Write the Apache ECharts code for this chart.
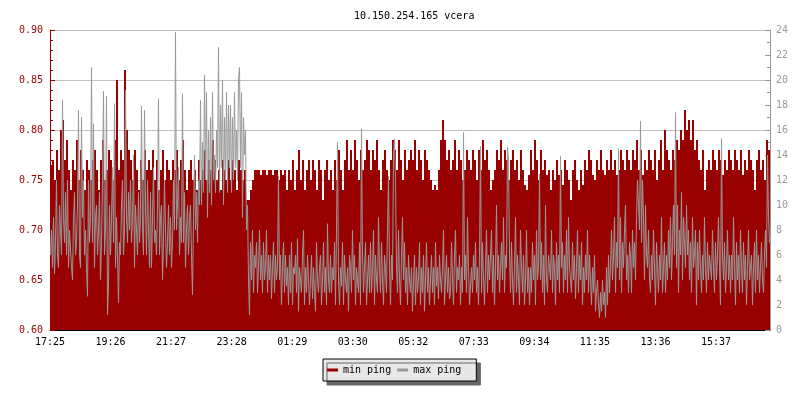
<!DOCTYPE html>
<html>
<head>
<meta charset="utf-8">
<script src="https://cdn.jsdelivr.net/npm/echarts@6/dist/echarts.min.js"></script>
<style>html,body{margin:0;padding:0;background:#fff}#c{width:800px;height:400px}</style>
</head>
<body>
<div id="c"></div>
<script>
const titleText = '10.150.254.165 vcera';
const tickLabels = ['17:25','19:26','21:27','23:28','01:29','03:30','05:32','07:33','09:34','11:35','13:36','15:37'];
const minStep = 4;   // minutes per min-ping sample
const maxStep = 2;   // minutes per max-ping sample
const tickInterval = 121.09;
const seriesNames = ['min ping', 'max ping'];

// min ping (left axis), one value per 4 minutes starting 17:25
const minPing = [
0.765,0.77,0.75,0.78,0.76,0.80,0.81,0.77,0.79,0.76,
0.74,0.77,0.76,0.79,0.75,0.78,0.76,0.74,0.77,0.76,
0.75,0.77,0.78,0.76,0.74,0.77,0.79,0.75,0.76,0.78,
0.77,0.75,0.79,0.85,0.76,0.78,0.77,0.86,0.80,0.78,
0.77,0.75,0.78,0.76,0.74,0.77,0.75,0.78,0.76,0.77,
0.76,0.78,0.75,0.77,0.74,0.76,0.78,0.75,0.77,0.76,
0.75,0.77,0.76,0.78,0.75,0.77,0.79,0.76,0.74,0.76,
0.77,0.75,0.76,0.74,0.77,0.75,0.76,0.78,0.75,0.77,
0.76,0.79,0.77,0.75,0.76,0.74,0.77,0.76,0.75,0.77,
0.75,0.77,0.76,0.74,0.77,0.76,0.75,0.76,0.73,0.73,
0.74,0.75,0.76,0.76,0.76,0.755,0.76,0.76,0.755,0.76,
0.76,0.755,0.76,0.76,0.75,0.76,0.755,0.76,0.74,0.76,
0.75,0.77,0.74,0.76,0.78,0.75,0.77,0.74,0.76,0.77,
0.75,0.77,0.76,0.74,0.77,0.76,0.73,0.76,0.77,0.75,
0.76,0.74,0.77,0.75,0.78,0.76,0.74,0.77,0.79,0.76,
0.78,0.76,0.79,0.77,0.75,0.78,0.76,0.77,0.79,0.78,
0.76,0.78,0.77,0.79,0.76,0.74,0.77,0.78,0.76,0.75,
0.77,0.79,0.78,0.76,0.79,0.77,0.75,0.78,0.76,0.77,
0.78,0.77,0.79,0.76,0.78,0.77,0.75,0.78,0.77,0.76,
0.75,0.74,0.745,0.74,0.76,0.79,0.81,0.79,0.77,0.78,
0.76,0.77,0.79,0.76,0.78,0.77,0.75,0.76,0.78,0.77,
0.76,0.78,0.77,0.75,0.78,0.76,0.79,0.77,0.78,0.76,
0.74,0.75,0.76,0.78,0.77,0.79,0.76,0.78,0.77,0.75,
0.77,0.78,0.76,0.77,0.75,0.78,0.76,0.745,0.74,0.755,
0.78,0.76,0.79,0.77,0.75,0.78,0.76,0.77,0.755,0.76,
0.74,0.76,0.75,0.77,0.755,0.76,0.745,0.77,0.76,0.75,
0.73,0.76,0.77,0.75,0.74,0.76,0.745,0.77,0.76,0.78,
0.77,0.755,0.75,0.77,0.76,0.78,0.76,0.755,0.77,0.76,
0.78,0.76,0.77,0.755,0.76,0.78,0.77,0.76,0.78,0.77,
0.76,0.78,0.77,0.79,0.76,0.78,0.755,0.77,0.76,0.78,
0.77,0.76,0.78,0.75,0.77,0.79,0.76,0.80,0.78,0.77,
0.76,0.78,0.77,0.79,0.78,0.80,0.79,0.82,0.80,0.81,
0.79,0.81,0.78,0.79,0.77,0.76,0.78,0.74,0.76,0.77,
0.76,0.78,0.77,0.76,0.78,0.77,0.755,0.77,0.76,0.78,
0.77,0.76,0.78,0.77,0.76,0.78,0.755,0.77,0.76,0.78,
0.77,0.76,0.74,0.77,0.78,0.76,0.77,0.75,0.79,0.78
];

// max ping (right axis), one value per 2 minutes starting 17:25
const maxPing = [
6,8,5,9,4.5,7,12,6,5,10,8,6,18.4,9,7,11,6,12,5,8,
8,5,4,9,11,6,7,10,17.6,6,5,17,9,12,6,8,5,2.7,12,7,
9,21,7,16.5,5,9,10,6,8,11,4,7,12,19.1,6,8,18.7,1.2,3.6,10,
6,9,13,7,18.1,5,9,6,2.2,7,6,10,12,6,8,19.2,9,7,11,8,
12,7,9,14,5,10,8,6,11,7,9,17.9,8,6,17.6,10,6,12,8,5,
11,5,9,13,7,8,6,10,18.5,6,9,10,4,7,12,8,5,7,10,6,
9,5,7,12,8,23.8,8,10,13,6,9,7,18.9,7,11,5,8,10,6,9,
10,6,2.8,9,14,8,11,7,12,10,18.4,10,15,11,20.4,12,19,9,16,11,
17,10,19,12,14,11,16,13,22.6,11,18,13,20,10,17,12,19,11,18,13,
18,11,17,12,19,13,16,12,20,21,13,19,9,17,14,16,8,10,4,1.2,
7,4,8,3,6,5,7,3,5,8,4,6,3,7,4,5,8,3,6,4,
6,2.5,5,7,3,6,4,5,12.3,4,6,2,5,7,3,6,3.5,5,2,6,
3,7,2,5,4.5,6,3,7.3,1.5,5,4,3,6,8,2,5,3,6,4,2,
4,6,2.5,5,3,1.5,7,4,3,5,6,2,4,7,3,5,2,8.5,4,3,
6,3,5,4,7,2,8,15,4,2,5,3.5,7,2,6,4,3,5,1.5,6,
5,3,8,4,6,2,5,4,3,7,2,16.1,6,3,5,7,2,4,6,3,
7,3,5,8,2,6,4,3,9,5,3,7,4,2,6,5,3,8,12.3,5,
2,6,4,14,15.3,12,5,3,8,4,2,6,9,4,7,3,5,2,6,4,
3,5,1.5,4,6,2,5,3,4,7,2,5,3,6,1.5,4,7,3,5,2,
4,6,3,5,2,7,3.5,5,2.5,6,4,3,5,8,2,4,6,3,5,2.5,
3,7,4,2,6,8,3,5,4,6,2,5,3,15.8,4,6,3,9,5,2,
2,5,3,6,4,7,3,5,2,6,14.7,3,7,4,2,5,8,3,6,4,
4,8,3,6,2,5,10,4,6,3,5,7,4,9,3,6,5,14.6,13.5,6,
3,7,4,2,5,9,3,6,4,2,8,5,3,6,2,4,8,3,5,2,
5,3,7,4,6,2,8,4,5,12.5,4,7,3,6,2,10,4,3,6,5,
4,8,3,6,5,2,7,4,6,3,13.9,5,7,3,6,4,8,3,9,5,
5,3,7,4,6,2.5,5,8,3,6,4,7,2,5,3,6,4,8,3,6,
4,2,5,3,6,1.5,3,4,2,1,3,1.5,4,2,3,1,5,2,6,3,
5,8,4,6,9,3,7,5,14.5,4,9,3,7,5,8,10,4,6,3,7,
6,3,8,5,7,4,9,12,10,8,16.7,7,12,9,4,10,6,5,8,4,
3,6,4,8,5,2,7,5,3,6,4,9,3,5,7,3,6,4,8,5,
9,4,7,10,6,17.4,5,10,3,8,6,11,4,9,7,5,10,6,8,4,
7,3,9,5,6,8,2,7,4,8,5,3,6,4,9,5,3,7,4,6,
6,4,8,5,3,7,4,6,9,5,2,15.3,6,4,7,3,5,8,4,6,
3,6,4,9,5,2,7,4,6,3,8,5,3,7,4,6,2,5,8,4,
4,6,2,5,7,3,8,4,6,3,5,7,4,3,6,8,5,14,9,7
];

const FONT = 'DejaVu Sans Mono';
const minData = minPing.map((v, i) => [i * minStep + minStep / 2, v]);
const maxData = maxPing.map((v, i) => [i * maxStep + maxStep / 2, v]);

const chart = echarts.init(document.getElementById('c'), null, {renderer: 'canvas'});
chart.setOption({
  animation: false,
  backgroundColor: '#ffffff',
  title: {
    text: titleText, left: 349, top: 6,
    textStyle: {fontFamily: FONT, fontSize: 10, fontWeight: 'normal', color: '#000'}
  },
  legend: {
    data: seriesNames,
    left: 323, top: 359,
    orient: 'horizontal',
    icon: 'rect', itemWidth: 11, itemHeight: 3, itemGap: 6,
    padding: [6, 15, 6, 4],
    backgroundColor: '#e8e8e8',
    borderColor: '#000', borderWidth: 1,
    shadowColor: '#666', shadowOffsetX: 4, shadowOffsetY: 4, shadowBlur: 0,
    textStyle: {fontFamily: FONT, fontSize: 10, color: '#000'}
  },
  grid: {left: 50, right: 30, top: 30, bottom: 70, containLabel: false},
  xAxis: {
    type: 'value', min: 0, max: 1440, interval: tickInterval,
    axisLine: {show: true, lineStyle: {color: '#000', width: 1}},
    axisTick: {show: true, inside: true, length: 5, lineStyle: {color: '#000'}},
    splitLine: {show: false},
    axisLabel: {
      fontFamily: FONT, fontSize: 10, color: '#000', margin: 7,
      showMaxLabel: false,
      formatter: function (v) {
        const k = v / tickInterval, r = Math.round(k);
        return (Math.abs(k - r) < 1e-3 && tickLabels[r]) ? tickLabels[r] : '';
      }
    }
  },
  yAxis: [
    {
      type: 'value', min: 0.6, max: 0.9, interval: 0.05, position: 'left',
      axisLine: {show: true, lineStyle: {color: '#990000'}},
      axisTick: {show: true, inside: true, length: 5, lineStyle: {color: '#990000'}},
      minorTick: {show: true, splitNumber: 5, length: 3, lineStyle: {color: '#990000'}},
      splitLine: {show: true, lineStyle: {color: '#c0c0c0', width: 1}},
      axisLabel: {fontFamily: FONT, fontSize: 10, color: '#990000', margin: 7,
        formatter: v => v.toFixed(2)}
    },
    {
      type: 'value', min: 0, max: 24, interval: 2, position: 'right',
      axisLine: {show: true, lineStyle: {color: '#999999'}},
      axisTick: {show: true, inside: true, length: 5, lineStyle: {color: '#999999'}},
      minorTick: {show: true, splitNumber: 2, length: 3, lineStyle: {color: '#999999'}},
      splitLine: {show: false},
      axisLabel: {fontFamily: FONT, fontSize: 10, color: '#999999', margin: 6}
    }
  ],
  series: [
    {
      name: seriesNames[0], type: 'bar', yAxisIndex: 0,
      data: minData, barWidth: 2, large: false,
      color: '#990000',
      itemStyle: {color: '#990000'},
      z: 2
    },
    {
      name: seriesNames[1], type: 'line', yAxisIndex: 1,
      data: maxData, showSymbol: false, symbol: 'none',
      color: '#999999',
      lineStyle: {width: 1, color: '#999999'},
      z: 3
    }
  ]
});
</script>
</body>
</html>
